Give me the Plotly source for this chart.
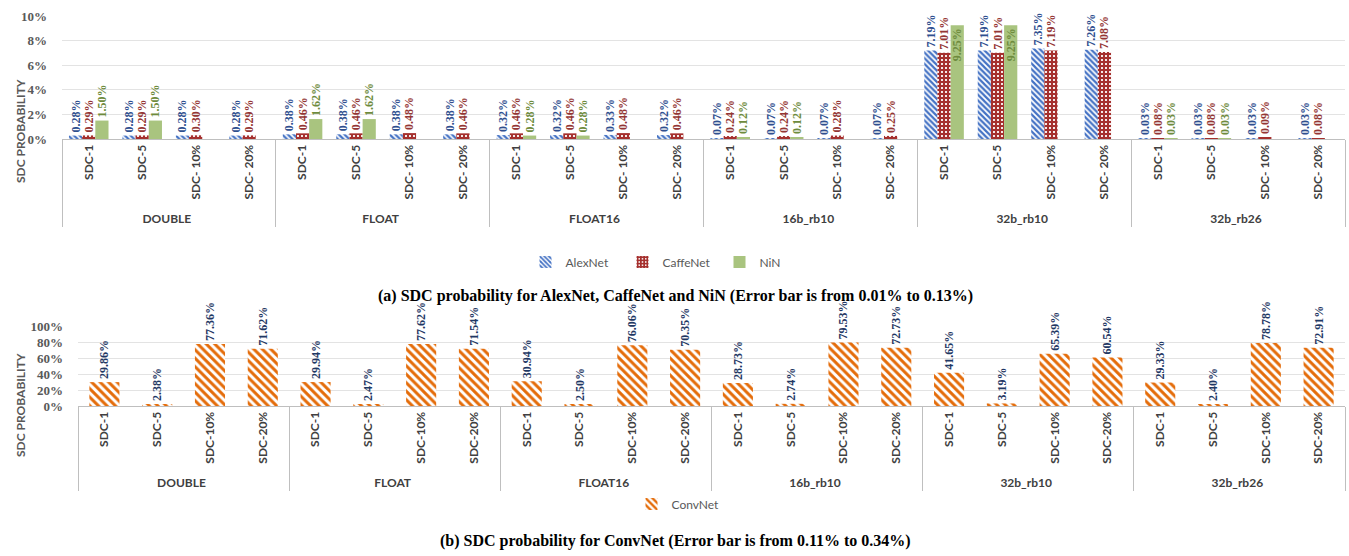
import plotly.graph_objects as go

W, H = 1349, 556

groups = ["DOUBLE", "FLOAT", "FLOAT16", "16b_rb10", "32b_rb10", "32b_rb26"]
levels_a = ["SDC-1", "SDC-5", "SDC- 10%", "SDC- 20%"]
levels_b = ["SDC-1", "SDC-5", "SDC-10%", "SDC-20%"]

alexnet = [0.28, 0.28, 0.28, 0.28, 0.38, 0.38, 0.38, 0.38, 0.32, 0.32, 0.33, 0.32,
           0.07, 0.07, 0.07, 0.07, 7.19, 7.19, 7.35, 7.26, 0.03, 0.03, 0.03, 0.03]
caffenet = [0.29, 0.29, 0.30, 0.29, 0.46, 0.46, 0.48, 0.46, 0.46, 0.46, 0.48, 0.46,
            0.24, 0.24, 0.28, 0.25, 7.01, 7.01, 7.19, 7.08, 0.08, 0.08, 0.09, 0.08]
nin = [1.50, 1.50, None, None, 1.62, 1.62, None, None, 0.28, 0.28, None, None,
       0.12, 0.12, None, None, 9.25, 9.25, None, None, 0.03, 0.03, None, None]
convnet = [29.86, 2.38, 77.36, 71.62, 29.94, 2.47, 77.62, 71.54, 30.94, 2.50, 76.06, 70.35,
           28.73, 2.74, 79.53, 72.73, 41.65, 3.19, 65.39, 60.54, 29.33, 2.40, 78.78, 72.91]

yticks_a = [0, 2, 4, 6, 8, 10]
yticks_b = [0, 20, 40, 60, 80, 100]

caption_a = "(a) SDC probability for AlexNet, CaffeNet and NiN (Error bar is from 0.01% to 0.13%)"
caption_b = "(b) SDC probability for ConvNet (Error bar is from 0.11% to 0.34%)"

xa = [[g for g in groups for _ in levels_a], [l for _ in groups for l in levels_a]]
xb = [[g for g in groups for _ in levels_b], [l for _ in groups for l in levels_b]]

LBL = "Liberation Serif"
SANS = "Lato"


def labels(vals):
    return ["" if v is None else f"{v:.2f}%" for v in vals]


def pos(vals, top):
    return ["outside" if (v is None or v < top * 0.85) else "inside" for v in vals]


fig = go.Figure()

series = [
    ("AlexNet", alexnet, dict(shape="\\", fgcolor="#4472C4", bgcolor="white", size=4, solidity=0.55),
     "#4472C4", "#2F4F8F"),
    ("CaffeNet", caffenet, dict(shape="+", fgcolor="#A5302E", bgcolor="white", size=4, solidity=0.8),
     "#A5302E", "#943634"),
    ("NiN", nin, dict(shape="", fgcolor="#A9C47F", bgcolor="#A9C47F"),
     "#A9C47F", "#6E8B3D"),
]
for name, vals, pat, col, tcol in series:
    fig.add_trace(go.Bar(
        x=xa, y=vals, name=name, xaxis="x", yaxis="y",
        marker=dict(color=col if pat["shape"] == "" else "white", pattern=pat, line=dict(width=0)),
        text=labels(vals), textposition=pos(vals, 10), textangle=-90,
        insidetextanchor="end",
        textfont=dict(family=LBL, size=12, color=tcol, weight="bold"),
        constraintext="none", cliponaxis=False, legend="legend",
    ))

fig.add_trace(go.Bar(
    x=xb, y=convnet, name="ConvNet", xaxis="x2", yaxis="y2",
    marker=dict(color="white", pattern=dict(shape="\\", fgcolor="#E46C0A", bgcolor="white",
                                            size=6, solidity=0.5), line=dict(width=0)),
    text=labels(convnet), textposition="outside", textangle=-90,
    textfont=dict(family=LBL, size=12, color="#1F3864", weight="bold"),
    constraintext="none", cliponaxis=False, legend="legend2",
))

tickfont_y = dict(family=LBL, size=13, color="#595959", weight="bold")
tickfont_x = dict(family=SANS, size=12, color="#404040", weight="bold")


def ydom(top_px, bot_px):
    return [1 - bot_px / H, 1 - top_px / H]


fig.update_layout(
    width=W, height=H,
    margin=dict(l=0, r=0, t=0, b=0),
    template="none",
    paper_bgcolor="white", plot_bgcolor="white",
    barmode="group",
    bargap=0.26, bargroupgap=0,
    xaxis=dict(domain=[62 / W, 1345 / W], type="multicategory", anchor="y",
               tickangle=-90, tickfont=tickfont_x, showline=True, linecolor="#BFBFBF",
               linewidth=1, ticks="", showdividers=True, dividercolor="#BFBFBF",
               dividerwidth=1, automargin=False, showgrid=False),
    yaxis=dict(domain=ydom(16, 139), anchor="x", range=[0, 10], tickvals=yticks_a,
               ticktext=[f"{v}%" for v in yticks_a],
               tickfont=tickfont_y, showgrid=True, gridcolor="#E3E3E3",
               zeroline=False, ticks="", ticklabelstandoff=14, automargin=False,
               showline=False),
    xaxis2=dict(domain=[78 / W, 1345 / W], type="multicategory", anchor="y2",
                tickangle=-90, tickfont=tickfont_x, showline=True, linecolor="#BFBFBF",
                linewidth=1, ticks="", showdividers=True, dividercolor="#BFBFBF",
                dividerwidth=1, automargin=False, showgrid=False),
    yaxis2=dict(domain=ydom(326, 406), anchor="x2", range=[0, 100], tickvals=yticks_b,
                ticktext=[f"{v}%" for v in yticks_b],
                tickfont=tickfont_y, showgrid=True, gridcolor="#E3E3E3",
                zeroline=False, ticks="", ticklabelstandoff=14, automargin=False,
                showline=False),
    legend=dict(orientation="h", x=671 / W, xanchor="center", y=1 - 262 / H, yanchor="middle",
                font=dict(family=SANS, size=12, color="#595959"), bgcolor="rgba(0,0,0,0)",
                itemwidth=30, tracegroupgap=0, entrywidth=52),
    legend2=dict(orientation="h", x=678 / W, xanchor="center", y=1 - 504 / H, yanchor="middle",
                 font=dict(family=SANS, size=12, color="#595959"), bgcolor="rgba(0,0,0,0)",
                 itemwidth=30),
    showlegend=True,
)

# bottom chart bars are narrower
fig.update_traces(selector=dict(name="ConvNet"), width=0.57)

ann_common = dict(xref="paper", yref="paper", showarrow=False, xanchor="center", yanchor="middle")
fig.add_annotation(text="SDC PROBABILITY", x=20 / W, y=1 - 131 / H, textangle=-90,
                   font=dict(family=SANS, size=12, color="#595959", weight="bold"), **ann_common)
fig.add_annotation(text="SDC PROBABILITY", x=20 / W, y=1 - 405 / H, textangle=-90,
                   font=dict(family=SANS, size=12, color="#595959", weight="bold"), **ann_common)
fig.add_annotation(text=caption_a, x=675 / W, y=1 - 296 / H,
                   font=dict(family=LBL, size=16, color="black", weight="bold"), **ann_common)
fig.add_annotation(text=caption_b, x=675 / W, y=1 - 541 / H,
                   font=dict(family=LBL, size=16, color="black", weight="bold"), **ann_common)

fig.write_html("out.html", config={"displayModeBar": False},
               post_script="document.body.style.margin='0';")
